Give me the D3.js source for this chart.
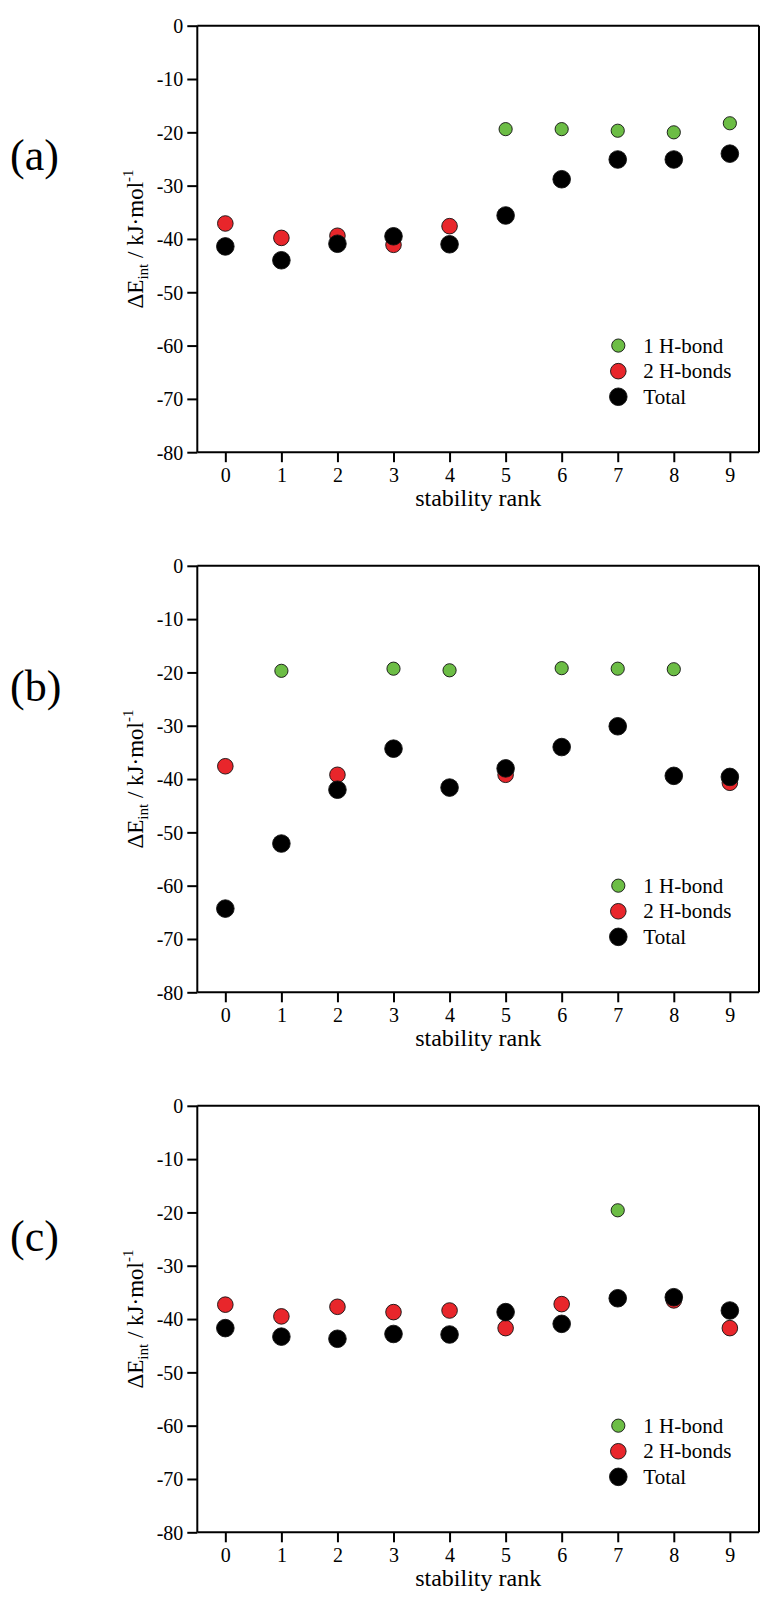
<!DOCTYPE html>
<html>
<head>
<meta charset="utf-8">
<script src="https://cdn.jsdelivr.net/npm/d3@7"></script>
<style>
  body { margin: 0; background: #fff; }
  svg { display: block; }
  text { font-family: "Liberation Serif", "Times New Roman", serif; fill: #000; }
</style>
</head>
<body>
<div id="chart"></div>
<script>
// stability rank on the x axis
const ranks = [0, 1, 2, 3, 4, 5, 6, 7, 8, 9];
const yTicks = [0, -10, -20, -30, -40, -50, -60, -70, -80];
const panelNames = ["(a)", "(b)", "(c)"];
const seriesNames = ["1 H-bond", "2 H-bonds", "Total"];

// (a)
const aOneHB   = [null, null, null, null, null, -19.4, -19.4, -19.7, -20.0, -18.3];
const aTwoHB   = [-37.1, -39.8, -39.4, -41.1, -37.6, null, null, null, null, null];
const aTotal   = [-41.4, -44.0, -40.9, -39.5, -41.0, -35.6, -28.8, -25.1, -25.1, -24.0];
// (b)
const bOneHB   = [null, -19.7, null, -19.3, -19.6, null, -19.2, -19.3, -19.4, null];
const bTwoHB   = [-37.6, null, -39.2, null, null, -39.2, null, null, null, -40.7];
const bTotal   = [-64.3, -52.1, -42.0, -34.3, -41.6, -38.0, -34.0, -30.1, -39.4, -39.6];
// (c)
const cOneHB   = [null, null, null, null, null, null, null, -19.6, null, null];
const cTwoHB   = [-37.3, -39.5, -37.7, -38.7, -38.4, -41.7, -37.2, null, -36.5, -41.7];
const cTotal   = [-41.7, -43.3, -43.7, -42.8, -42.9, -38.7, -40.9, -36.1, -35.9, -38.4];

const panels = [
  [aOneHB, aTwoHB, aTotal],
  [bOneHB, bTwoHB, bTotal],
  [cOneHB, cTwoHB, cTotal]
];

// look
const fills = ["#6cbd45", "#e8262b", "#000000"];
const radii = [6.6, 7.8, 8.8];

const W = 771, H = 1600;
const left = 197.3, right = 759;
const tops = [25.7, 565.8, 1105.8];
const plotH = 426.5;
const labelBase = [170, 701, 1251];

const svg = d3.select("#chart").append("svg")
  .attr("width", W).attr("height", H);

const x = d3.scaleLinear().domain([-0.5, 9.52]).range([left, right]);

panels.forEach(function(series, p) {
  const top = tops[p], bottom = top + plotH;
  const y = d3.scaleLinear().domain([0, -80]).range([top, bottom]);
  const g = svg.append("g");

  // frame top / right
  g.append("line").attr("x1", left).attr("x2", right).attr("y1", top).attr("y2", top)
    .attr("stroke", "#000").attr("stroke-width", 2);
  g.append("line").attr("x1", right).attr("x2", right).attr("y1", top).attr("y2", bottom)
    .attr("stroke", "#000").attr("stroke-width", 2);

  // plain hyphen for negatives, like the original
  const fmt = function(d) { return String(d); };

  const ya = g.append("g").attr("transform", "translate(" + left + ",0)")
    .call(d3.axisLeft(y).tickValues(yTicks).tickSize(10).tickPadding(4).tickFormat(fmt));
  const xa = g.append("g").attr("transform", "translate(0," + bottom + ")")
    .call(d3.axisBottom(x).tickValues(ranks).tickSize(10).tickPadding(6).tickFormat(fmt));

  [ya, xa].forEach(function(a) {
    a.select(".domain").attr("stroke", "#000").attr("stroke-width", 2);
    a.selectAll(".tick line").attr("stroke", "#000").attr("stroke-width", 2);
    a.selectAll(".tick text").attr("font-size", 20)
      .style("font-family", '"Liberation Serif", "Times New Roman", serif').attr("fill", "#000");
  });
  // no outer ticks
  ya.select(".domain").attr("d", "M0," + top + "V" + bottom);
  xa.select(".domain").attr("d", "M" + left + ",0H" + right);
  ya.selectAll(".tick text").attr("dy", "0.34em");

  // points: green, red, black in that order
  series.forEach(function(vals, s) {
    g.append("g").selectAll("circle")
      .data(ranks.map(function(r, i) { return { r: r, v: vals[i] }; }).filter(function(d) { return d.v !== null; }))
      .join("circle")
      .attr("cx", function(d) { return x(d.r); })
      .attr("cy", function(d) { return y(d.v); })
      .attr("r", radii[s])
      .attr("fill", fills[s])
      .attr("stroke", "#111")
      .attr("stroke-width", 0.9);
  });

  // legend
  const lg = g.append("g");
  seriesNames.forEach(function(name, s) {
    const ly = bottom - plotH * (0.25 - 0.06 * s);
    lg.append("circle").attr("cx", 618.3).attr("cy", ly).attr("r", radii[s])
      .attr("fill", fills[s]).attr("stroke", "#111").attr("stroke-width", 0.9);
    lg.append("text").attr("x", 643.3).attr("y", ly + 7).attr("font-size", 21).text(name);
  });

  // x label
  g.append("text").attr("x", (left + right) / 2).attr("y", bottom + 53.5)
    .attr("text-anchor", "middle").attr("font-size", 24).text("stability rank");

  // y label
  const yl = g.append("text")
    .attr("transform", "translate(143.3," + (top + plotH / 2) + ") rotate(-90)")
    .attr("text-anchor", "middle").attr("font-size", 23);
  yl.append("tspan").text("ΔE");
  yl.append("tspan").attr("font-size", 15).attr("dy", 5).text("int");
  yl.append("tspan").attr("dy", -5).text(" / kJ·mol");
  yl.append("tspan").attr("font-size", 15).attr("dy", -10).text("-1");

  // panel label
  g.append("text").attr("x", 10).attr("y", labelBase[p]).attr("font-size", 44).text(panelNames[p]);
});
</script>
</body>
</html>
